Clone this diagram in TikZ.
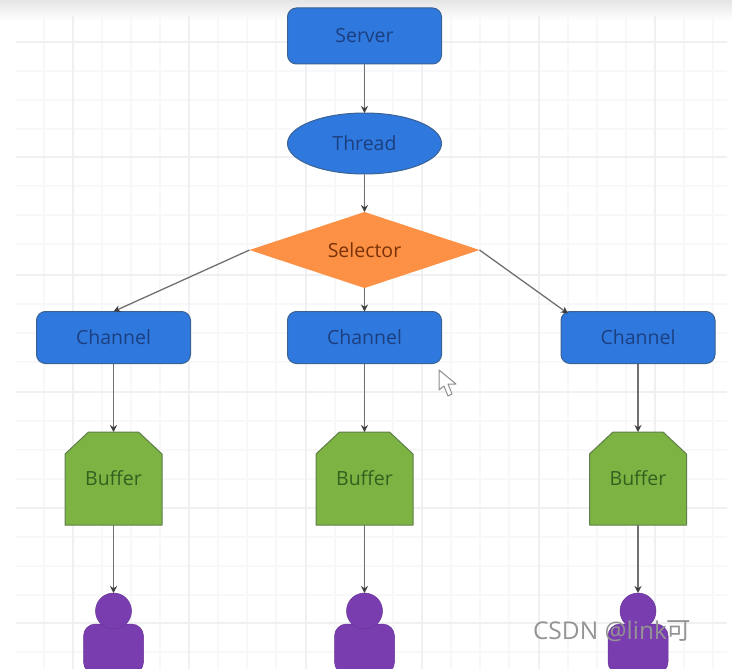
\documentclass[tikz,border=0pt]{standalone}
\usepackage{fontspec}
\setmainfont{Open Sans}
\newfontfamily\cjkfont{Noto Sans CJK SC}
\usetikzlibrary{shapes.geometric,arrows.meta,calc}
\definecolor{blueF}{HTML}{2F78DE}
\definecolor{blueD}{HTML}{3A6293}
\definecolor{blueT}{HTML}{1C3F80}
\definecolor{orangeF}{HTML}{FC9044}
\definecolor{orangeT}{HTML}{7A3208}
\definecolor{greenF}{HTML}{7DB343}
\definecolor{greenD}{HTML}{5F7F4A}
\definecolor{greenT}{HTML}{33601F}
\definecolor{purpleF}{HTML}{7A3DB0}
\definecolor{lineC}{HTML}{707070}
\definecolor{gridA}{HTML}{F0F0F3}
\definecolor{gridB}{HTML}{F8F8FA}
\tikzset{
  base/.style={font=\fontsize{19.5}{21}\selectfont,inner sep=0pt,outer sep=0pt},
  bluebox/.style={base,rectangle,rounded corners=9pt,draw=blueD,line width=1pt,fill=blueF,text=blueT,minimum width=154pt,minimum height=52pt},
  oval/.style={base,ellipse,draw=blueD,line width=1pt,fill=blueF,text=blueT,minimum width=154pt,minimum height=61pt},
  selbox/.style={base,diamond,aspect=3,draw=none,fill=orangeF,text=orangeT,minimum width=230pt,minimum height=76pt},
  bufbox/.style={base,rectangle,text=greenT,minimum width=97pt,minimum height=93pt},
  bufshape/.style={draw=greenD,line width=1pt,fill=greenF,line join=round},
  head/.style={circle,fill=purpleF,draw=purpleF!85!black,line width=0.5pt,minimum size=36pt,inner sep=0pt,outer sep=0pt},
  torso/.style={rectangle,rounded corners=12pt,fill=purpleF,draw=purpleF!85!black,line width=0.5pt,minimum width=60pt,minimum height=50pt,inner sep=0pt},
  link/.style={draw=lineC,line width=1.3pt,-{Stealth[length=7pt,width=7pt,color=black!75]}},
  majorgrid/.style={draw=gridA,line width=2pt},
  minorgrid/.style={draw=gridB,line width=1.2pt},
}
\begin{document}
\begin{tikzpicture}[x=1pt,y=-1pt]
\useasboundingbox (0,0) rectangle (732,669);
\clip (0,0) rectangle (732,669);
\fill[white] (0,0) rectangle (732,669);
% top shade
\foreach \sy/\sh in {0/10,2/9,4/8,6/7,8/6,10/5,12/4,14/3,16/2,18/1}
  \fill[black!\sh] (0,\sy) rectangle (732,\sy+2.2);
% grid
\foreach \gx in {44,102,131,160,218,247,276,335,364,393,451,480,509,568,597,626,684,713}
  \draw[minorgrid] (\gx,16) -- (\gx,669);
\foreach \gy in {71,100,129,186,215,244,304,333,362,421,450,479,537,566,595,652}
  \draw[minorgrid] (16,\gy) -- (727,\gy);
\foreach \gx in {73,189,306,422,539,655}
  \draw[majorgrid] (\gx,16) -- (\gx,669);
\foreach \gy in {42,157,275,392,508,623}
  \draw[majorgrid] (16,\gy) -- (727,\gy);
% buffer outlines
\foreach \bx in {113.5,364.5,638}
  \draw[bufshape] (\bx-48.5,525) -- (\bx-48.5,454) -- (\bx-25,432) -- (\bx+25,432) -- (\bx+48.5,454) -- (\bx+48.5,525) -- cycle;
% nodes
\node[bluebox,minimum height=56pt] (server) at (364.5,36) {Server};
\node[oval] (thread) at (364.5,143.5) {Thread};
\node[selbox] (sel) at (364.5,250) {Selector};
\node[bluebox] (c1) at (113.5,337.5) {Channel};
\node[bluebox] (c2) at (364.5,337.5) {Channel};
\node[bluebox] (c3) at (638,337.5) {Channel};
\node[bufbox] (b1) at (113.5,478.5) {Buffer};
\node[bufbox] (b2) at (364.5,478.5) {Buffer};
\node[bufbox] (b3) at (638,478.5) {Buffer};
\node[torso] (t1) at (113.5,649) {};
\node[torso] (t2) at (364.5,649) {};
\node[torso] (t3) at (638,649) {};
\node[head] (p1) at (113.5,611) {};
\node[head] (p2) at (364.5,611) {};
\node[head] (p3) at (638,611) {};
% connectors
\draw[link] (server) -- (thread);
\draw[link] (thread) -- (sel);
\draw[link] (sel.south) -- (c2.north);
\draw[link] (sel.west) -- (c1.north);
\draw[link] (sel.east) -- ($(c3.north west)+(7,2)$);
\draw[link] (c1) -- (b1);
\draw[link] (c2) -- (b2);
\draw[link] (c3) -- (b3);
\draw[link] (b1) -- (p1);
\draw[link] (b2) -- (p2);
\draw[link] (b3) -- (p3);
% pointer
\draw[draw=black!45,fill=white,line width=1pt,line join=round]
  (439,370) -- (439,390) -- (444,386) -- (448,396) -- (452,394) -- (448,384) -- (456,384) -- cycle;
% watermark
\node[base,font=\fontsize{24.5}{26}\selectfont,text=black!42,anchor=west] (mark) at (533,631) {CSDN @link{\cjkfont 可}};
\end{tikzpicture}
\end{document}
